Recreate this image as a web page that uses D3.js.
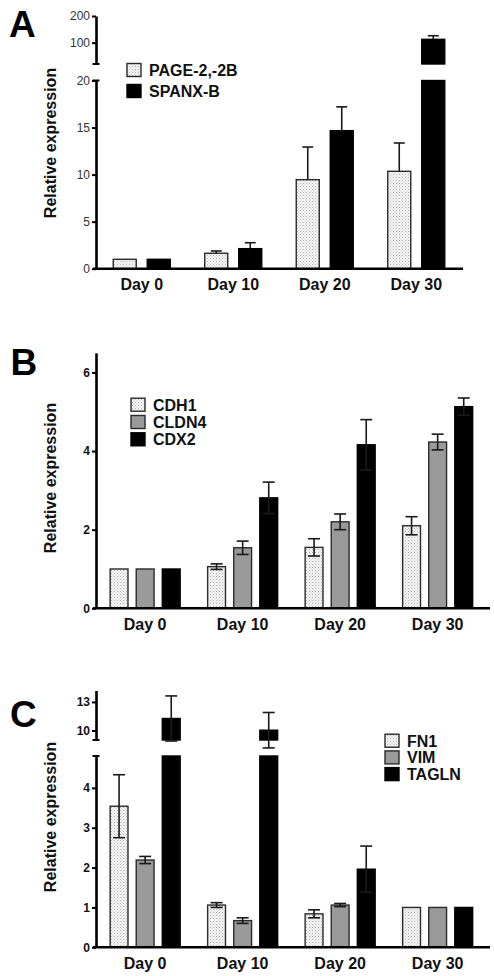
<!DOCTYPE html>
<html><head><meta charset="utf-8">
<script src="https://cdn.jsdelivr.net/npm/d3@7/dist/d3.min.js"></script>
<style>
body{margin:0;background:#fff;}
text{font-family:Arial,"Liberation Sans",sans-serif;}
</style></head>
<body>
<svg id="chart" width="494" height="976"></svg>
<script>
// ---------- DATA ----------
const days = ["Day 0", "Day 10", "Day 20", "Day 30"];

// Panel A
const seriesA = ["PAGE-2,-2B", "SPANX-B"];
const pageA = [1, 1.64, 9.46, 10.35];
const pageAErr = [0, 0.24, 3.47, 3.01];
const spanxA = [1, 2.13, 14.67, 112.5];
const spanxAErr = [0, 0.63, 2.53, 13.5];
const ticksALow = [0, 5, 10, 15, 20];
const ticksAHigh = [100, 200];

// Panel B
const seriesB = ["CDH1", "CLDN4", "CDX2"];
const cdh1 = [1, 1.06, 1.55, 2.1];
const cdh1Err = [0, 0.07, 0.22, 0.23];
const cldn4 = [1, 1.54, 2.2, 4.23];
const cldn4Err = [0, 0.17, 0.2, 0.2];
const cdx2 = [1, 2.81, 4.16, 5.13];
const cdx2Err = [0, 0.4, 0.64, 0.22];
const ticksB = [0, 2, 4, 6];

// Panel C
const seriesC = ["FN1", "VIM", "TAGLN"];
const fn1 = [3.54, 1.06, 0.84, 1];
const fn1Err = [0.79, 0.06, 0.1, 0];
const vim = [2.19, 0.67, 1.06, 1];
const vimErr = [0.09, 0.07, 0.04, 0];
const tagln = [11.26, 10.03, 1.96, 1];
const taglnErr = [2.37, 1.86, 0.58, 0];
const ticksCLow = [0, 1, 2, 3, 4];
const ticksCHigh = [10, 13];

// ---------- DRAWING ----------
const svg = d3.select("#chart");
const defs = svg.append("defs");
const pat = defs.append("pattern").attr("id", "stip").attr("patternUnits", "userSpaceOnUse")
  .attr("width", 3).attr("height", 3);
pat.append("rect").attr("width", 3).attr("height", 3).attr("fill", "#f3f3f3");
pat.append("rect").attr("width", 1).attr("height", 1).attr("fill", "#b8b8b8");
pat.append("rect").attr("x", 1.5).attr("y", 1.5).attr("width", 1).attr("height", 1).attr("fill", "#cfcfcf");

const fills = {stip: "url(#stip)", grey: "#9a9a9a", black: "#000"};
const AX = 96;

function panel(cfg) {
  const g = svg.append("g");
  const x0 = d3.scaleBand().domain(days).range(cfg.xRange)
    .paddingInner(cfg.groupPad).paddingOuter(cfg.groupPad / 2);
  const x1 = d3.scaleBand().domain(cfg.series.map(s => s.name))
    .range([0, x0.bandwidth()]).paddingInner(cfg.barPad);
  const segs = cfg.segments.map(s => ({...s, y: d3.scaleLinear().domain(s.domain).range(s.range)}));

  // bars
  cfg.series.forEach(s => {
    days.forEach((d, i) => {
      const v = s.values[i];
      segs.forEach(seg => {
        if (v > seg.domain[0]) {
          const yTop = seg.y(Math.min(v, seg.domain[1]));
          const yBot = seg.y(seg.domain[0]);
          g.append("rect")
            .attr("x", x0(d) + x1(s.name))
            .attr("y", yTop)
            .attr("width", x1.bandwidth())
            .attr("height", yBot - yTop)
            .attr("fill", fills[s.fill])
            .attr("stroke", s.fill === "black" ? "#000" : "#2a2a2a")
            .attr("stroke-width", 1.4);
        }
      });
    });
  });

  // error bars
  cfg.series.forEach(s => {
    days.forEach((d, i) => {
      const v = s.values[i], e = s.errs[i];
      if (!e) return;
      const seg = segs.find(sg => v >= sg.domain[0] && v <= sg.domain[1]) || segs[segs.length - 1];
      const cx = x0(d) + x1(s.name) + x1.bandwidth() / 2;
      const hi = seg.y(v + e);
      const lo = cfg.bothErr ? seg.y(v - e) : seg.y(v);
      const eg = g.append("g").attr("stroke", "#1a1a1a").attr("stroke-width", 1.6);
      eg.append("line").attr("x1", cx).attr("x2", cx).attr("y1", lo).attr("y2", hi);
      eg.append("line").attr("x1", cx - cfg.cap / 2).attr("x2", cx + cfg.cap / 2).attr("y1", hi).attr("y2", hi);
      if (cfg.bothErr) eg.append("line").attr("x1", cx - cfg.cap / 2).attr("x2", cx + cfg.cap / 2).attr("y1", lo).attr("y2", lo);
    });
  });

  // y axes
  segs.forEach(seg => {
    const ax = g.append("g").attr("transform", `translate(${AX},0)`)
      .call(d3.axisLeft(seg.y).tickValues(seg.ticks).tickFormat(d3.format("~g"))
        .tickSize(4).tickPadding(2).tickSizeOuter(0));
    ax.select(".domain").attr("stroke", "#000").attr("stroke-width", 2.6);
    ax.selectAll(".tick line").attr("stroke", "#000").attr("stroke-width", 2);
    ax.selectAll(".tick text").attr("font-size", 12).attr("font-weight", cfg.tickBold ? "bold" : "normal")
      .attr("fill", cfg.tickBold ? "#111" : "#333")
      .attr("font-family", "Arial, 'Liberation Sans', sans-serif");
    (seg.caps || []).forEach(c => {
      const yy = seg.y(seg.domain[c]);
      g.append("line").attr("x1", AX - 3.5).attr("x2", AX + 3.5).attr("y1", yy).attr("y2", yy)
        .attr("stroke", "#000").attr("stroke-width", 2);
    });
  });

  // x axis line
  const y0 = segs[0].y(0);
  g.append("line").attr("x1", AX - 3).attr("x2", cfg.xAxisEnd).attr("y1", y0).attr("y2", y0)
    .attr("stroke", "#000").attr("stroke-width", 2.6);
  days.forEach(d => {
    g.append("text").attr("x", x0(d) + x0.bandwidth() / 2).attr("y", y0 + 21.5)
      .attr("text-anchor", "middle").attr("font-size", 16).attr("font-weight", "bold").attr("fill", "#111")
      .text(d);
  });

  g.append("text").attr("transform", `translate(55.5,${cfg.ylabelY}) rotate(-90)`)
    .attr("text-anchor", "middle").attr("font-size", 16).attr("font-weight", "bold").attr("fill", "#111")
    .text("Relative expression");

  g.append("text").attr("x", cfg.letterX).attr("y", cfg.letterY).attr("font-size", 37)
    .attr("font-weight", "bold").attr("fill", "#000").text(cfg.letter);

  cfg.series.forEach((s, i) => {
    const by = cfg.legend.y + i * cfg.legend.step;
    g.append("rect").attr("x", cfg.legend.x).attr("y", by - 12.5).attr("width", 14).attr("height", 13)
      .attr("fill", fills[s.fill]).attr("stroke", s.fill === "black" ? "#000" : "#2a2a2a").attr("stroke-width", 1.4);
    g.append("text").attr("x", cfg.legend.x + 22).attr("y", by).attr("font-size", 16)
      .attr("font-weight", "bold").attr("fill", "#111").text(s.name);
  });
}

panel({
  letter: "A", letterX: 9, letterY: 36.7,
  xRange: [96, 462], groupPad: 0.377, barPad: 11 / 34, xAxisEnd: 463, cap: 11,
  bothErr: false, tickBold: false, ylabelY: 143,
  series: [
    {name: seriesA[0], values: pageA, errs: pageAErr, fill: "stip"},
    {name: seriesA[1], values: spanxA, errs: spanxAErr, fill: "black"}
  ],
  segments: [
    {domain: [0, 20], range: [268.7, 80.5], ticks: ticksALow, caps: [1]},
    {domain: [20, 200], range: [64, 16], ticks: ticksAHigh, caps: [0]}
  ],
  legend: {x: 127, y: 76, step: 21}
});

panel({
  letter: "B", letterX: 10.5, letterY: 375,
  xRange: [96.4, 486.4], groupPad: 0.282, barPad: 0.316, xAxisEnd: 490, cap: 12,
  bothErr: true, tickBold: true, ylabelY: 478,
  series: [
    {name: seriesB[0], values: cdh1, errs: cdh1Err, fill: "stip"},
    {name: seriesB[1], values: cldn4, errs: cldn4Err, fill: "grey"},
    {name: seriesB[2], values: cdx2, errs: cdx2Err, fill: "black"}
  ],
  segments: [
    {domain: [0, 6.5], range: [608.3, 352.8], ticks: ticksB}
  ],
  legend: {x: 131, y: 410.7, step: 17.3}
});

panel({
  letter: "C", letterX: 10, letterY: 727,
  xRange: [96.4, 486.4], groupPad: 0.282, barPad: 0.316, xAxisEnd: 490, cap: 12,
  bothErr: true, tickBold: true, ylabelY: 817,
  series: [
    {name: seriesC[0], values: fn1, errs: fn1Err, fill: "stip"},
    {name: seriesC[1], values: vim, errs: vimErr, fill: "grey"},
    {name: seriesC[2], values: tagln, errs: taglnErr, fill: "black"}
  ],
  segments: [
    {domain: [0, 4.8], range: [947.3, 756], ticks: ticksCLow, caps: [1]},
    {domain: [9, 14.2], range: [740, 690.5], ticks: ticksCHigh, caps: [0]}
  ],
  legend: {x: 385, y: 746.7, step: 16.7}
});
</script>
</body></html>
